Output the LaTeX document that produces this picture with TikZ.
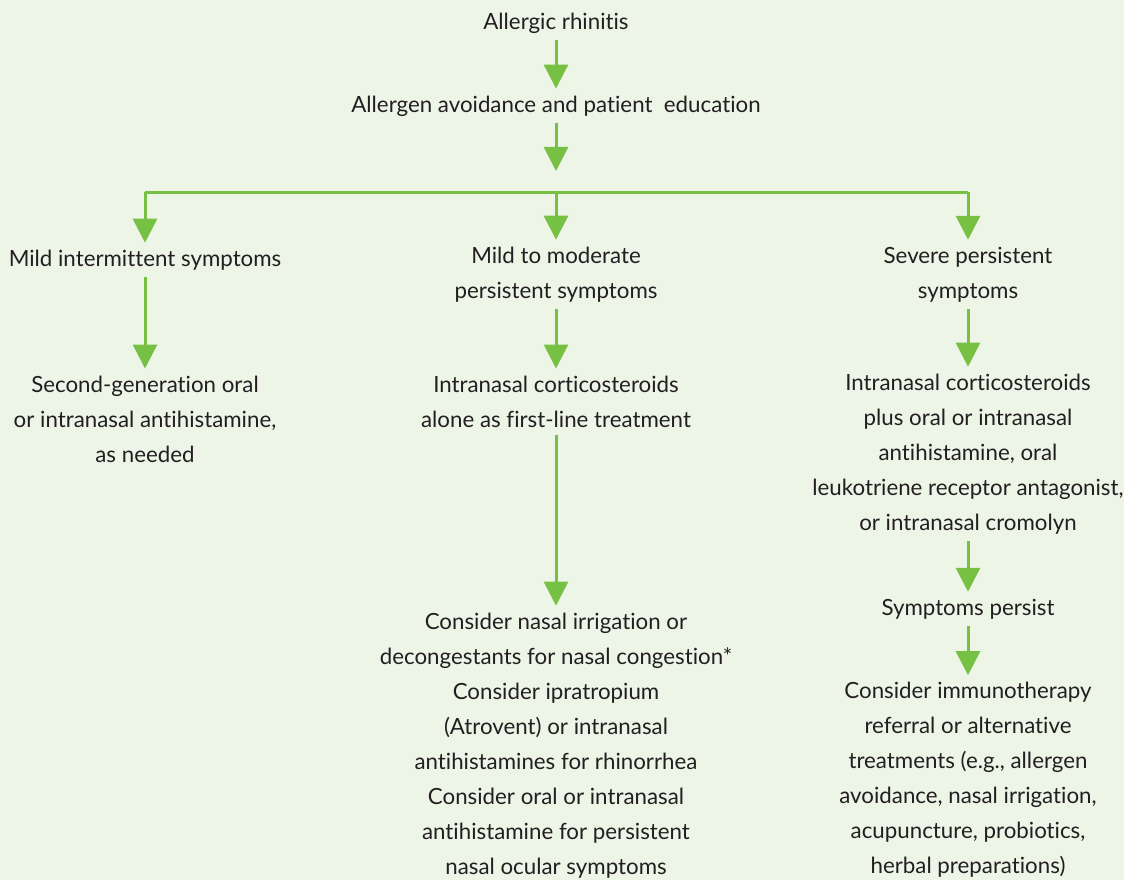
\documentclass[tikz,border=0pt]{standalone}
\usepackage{fontspec}
\setmainfont{Lato}[Ligatures={NoCommon}]
\usetikzlibrary{arrows.meta}
\definecolor{bg}{HTML}{EDF5E7}
\definecolor{grn}{HTML}{76C043}
\definecolor{ink}{HTML}{231F20}
\tikzset{
  txt/.style={inner sep=0pt, align=center, text=ink, font=\fontsize{22.3}{35}\selectfont},
  ln/.style={draw=grn, line width=3pt},
  arr/.style={ln, -{Triangle[width=24pt,length=24pt]}, shorten <=7pt, shorten >=7pt},
}
\begin{document}
\begin{tikzpicture}[x=1pt,y=-1pt]
\fill[bg] (0,0) rectangle (1124,880);
\useasboundingbox (0,0) rectangle (1124,880);

\node[txt] (rhin) at (556,23) {Allergic rhinitis};
\node[txt] (avoid) at (556,106) {Allergen avoidance and patient\ \ education};
\node[txt] (mild) at (145,260) {Mild intermittent symptoms};
\node[txt] (mod) at (556,274.5) {Mild to moderate\\persistent symptoms};
\node[txt] (sev) at (968,274.5) {Severe persistent\\symptoms};
\node[txt] (sga) at (145,419) {Second-generation oral\\or intranasal antihistamine,\\as needed};
\node[txt] (ics) at (556,401.5) {Intranasal corticosteroids\\alone as first-line treatment};
\node[txt] (icsplus) at (968,454) {Intranasal corticosteroids\\plus oral or intranasal\\antihistamine, oral\\leukotriene receptor antagonist,\\or intranasal cromolyn};
\node[txt] (persist) at (968,609) {Symptoms persist};
\node[txt] (consider) at (556,745.5) {Consider nasal irrigation or\\decongestants for nasal congestion*\\Consider ipratropium\\(Atrovent) or intranasal\\antihistamines for rhinorrhea\\Consider oral or intranasal\\antihistamine for persistent\\nasal ocular symptoms};
\node[txt] (immuno) at (968,780) {Consider immunotherapy\\referral or alternative\\treatments (e.g., allergen\\avoidance, nasal irrigation,\\acupuncture, probiotics,\\herbal preparations)};

\coordinate (hub) at (556,192);
\coordinate (bl) at (145,192);
\coordinate (br) at (968,192);
\coordinate (a2end) at (556,171);

\draw[arr] (rhin) -- (avoid);
\draw[arr, shorten >=0pt] (avoid) -- (a2end);
\draw[ln] (bl) -- (br);
\draw[arr, shorten <=0pt] (bl) -- (mild);
\draw[arr, shorten <=0pt] (hub) -- (mod);
\draw[arr, shorten <=0pt] (br) -- (sev);
\draw[arr] (mild) -- (sga);
\draw[arr] (mod) -- (ics);
\draw[arr] (sev) -- (icsplus);
\draw[arr] (ics) -- (consider);
\draw[arr] (icsplus) -- (persist);
\draw[arr] (persist) -- (immuno);
\end{tikzpicture}
\end{document}
